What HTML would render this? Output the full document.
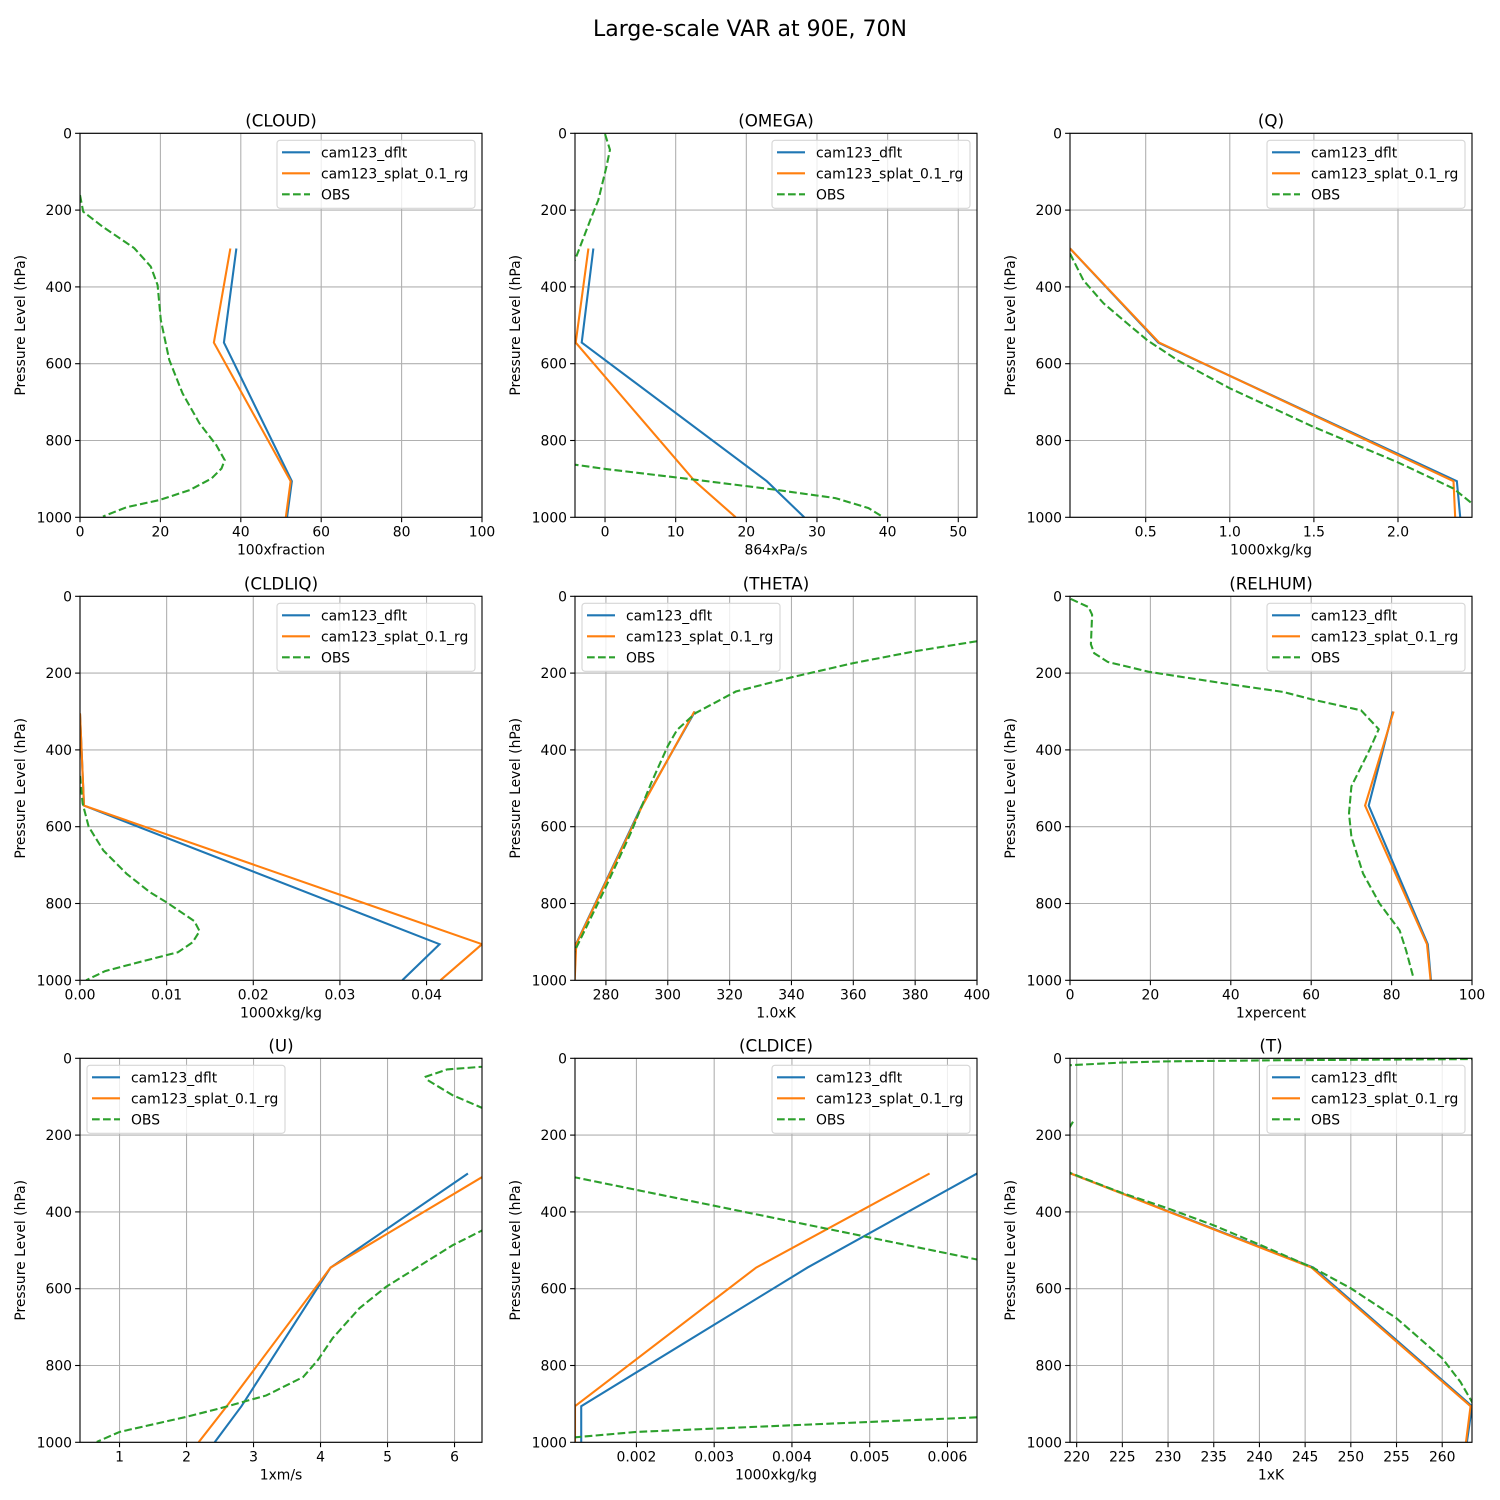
<!DOCTYPE html>
<html><head><meta charset="utf-8"><style>
html,body{margin:0;padding:0;background:#fff;}
svg{display:block;font-family:"DejaVu Sans","Liberation Sans",sans-serif;}
</style></head><body>
<svg id="fig" width="1500" height="1500" viewBox="0 0 1500 1500">
<rect width="1500" height="1500" fill="#fff"/>
<text x="750" y="36" text-anchor="middle" font-size="22">Large-scale VAR at 90E, 70N</text>
</svg>
<script>
// Pressure levels (model)
const levels = [300, 545, 906, 1000];
const yTicks = [0, 200, 400, 600, 800, 1000];

// CLOUD
const cloudDflt = [38.9, 35.8, 52.7, 51.5];
const cloudSplat = [37.4, 33.3, 52.4, 51.2];
const cloudObsP = [161,204,243,299,347,395,486,590,677,755,812,851,873,899,929,955,974,998];
const cloudObsX = [0,0.8,5.6,13.5,17.6,19.3,20.1,22.2,25.5,29.7,33.9,36,35.2,32.7,27.3,19.8,11.5,5.7];
const cloudTicks = [0,20,40,60,80,100];

// OMEGA
const omegaDflt = [-1.65, -3.3, 22.9, 28.2];
const omegaSplat = [-2.35, -4.15, 12.7, 18.5];
const omegaObsP = [2,43,87,174,217,325,360,null,840,863,874,902,928,950,976,1000];
const omegaObsX = [0,0.7,0.2,-0.95,-1.9,-4.15,-5,null,-6,-4.25,0,12.7,24,32.6,37.3,39.4];
const omegaTicks = [0,10,20,30,40,50];

// Q
const qDflt = [0.05, 0.575, 2.35, 2.37];
const qSplat = [0.05, 0.58, 2.33, 2.34];
const qObsP = [313,383,443,495,539,591,664,765,857,925,964];
const qObsX = [0.05,0.13,0.25,0.39,0.51,0.69,1.0,1.5,2.0,2.33,2.44];
const qTicks = [0.5,1.0,1.5,2.0];
const qTickLabels = ["0.5","1.0","1.5","2.0"];

// CLDLIQ
const liqP = [305, 545, 906, 1000];
const liqDflt = [0, 0.00046, 0.0415, 0.0372];
const liqSplat = [0, 0.00046, 0.0464, 0.0416];
const liqObsP = [468,539,600,662,723,771,797,846,872,901,927,939,950,976,1000];
const liqObsX = [0,0.0003,0.001,0.0027,0.0054,0.0081,0.01,0.0132,0.0138,0.013,0.0113,0.0092,0.0073,0.0029,0.0007];
const liqTicks = [0,0.01,0.02,0.03,0.04];
const liqTickLabels = ["0.00","0.01","0.02","0.03","0.04"];

// THETA
const thetaDflt = [308.8, 291.6, 270.3, 269.8];
const thetaSplat = [308.6, 291.8, 270.4, 269.9];
const thetaObsP = [117,143,174,211,248,304,348,390,487,617,765,922,960];
const thetaObsX = [400,380,360,340,322,309,303,300,294.6,288,279.5,270,269];
const thetaTicks = [280,300,320,340,360,380,400];

// RELHUM
const rhDflt = [80.3, 74.3, 89.0, 89.8];
const rhSplat = [80.5, 73.4, 88.8, 89.7];
const rhObsP = [7,28,48,125,148,171,197,229,249,269,297,346,400,495,565,626,722,800,870,922,996];
const rhObsX = [0.2,4.6,5.5,5.2,6.0,9.4,19.8,39.7,53,60.4,72.4,76.8,74.5,70,69.4,70,72.9,77,82,83.6,85.5];
const rhTicks = [0,20,40,60,80,100];

// U
const uDflt = [6.2, 4.15, 2.82, 2.42];
const uSplat = [6.5, 4.15, 2.6, 2.18];
const uObsP = [15,22,29,48,57,96,129,140,null,430,452,487,595,651,729,786,830,878,912,934,973,999];
const uObsX = [6.8,6.41,5.89,5.57,5.6,5.97,6.41,6.6,null,6.6,6.37,5.97,4.98,4.58,4.18,3.96,3.74,3.19,2.49,1.99,1.0,0.66];
const uTicks = [1,2,3,4,5,6];

// CLDICE
const iceDflt = [0.00638, 0.0042, 0.00129, 0.00129];
const iceSplat = [0.00577, 0.00354, 0.00121, 0.00121];
const iceObsP = [300,310,391,450,524,540,null,925,935,973,987,995];
const iceObsX = [0.0009,0.00121,0.00317,0.0046,0.00638,0.0068,null,0.0068,0.00638,0.002,0.00121,0.0009];
const iceTicks = [0.002,0.003,0.004,0.005,0.006];

// T
const tDflt = [219.35, 245.9, 263.26, 262.7];
const tSplat = [219.35, 245.7, 263.1, 262.6];
const tObsP = [1,2,5,8,11,18,20,null,165,175,190,null,290,299,351,391,435,485,546,599,677,781,843,895,910];
const tObsX = [264,263.26,242.7,229.9,225,219.3,218.9,null,219.6,219.35,219.0,null,218.8,219.35,225,230,235,240,245.9,250,255,260,262,263.26,263.6];
const tTicks = [220,225,230,235,240,245,250,255,260];

const NS = "http://www.w3.org/2000/svg";
const svg = document.getElementById('fig');
function el(tag, attrs, parent){ const e=document.createElementNS(NS,tag); for(const k in attrs) e.setAttribute(k,attrs[k]); (parent||svg).appendChild(e); return e; }

const colLeft=[80,575,1070], rowTop=[133.3,596.3,1058.3], W=402, H=384;
const DASH='7.7 3.3';
const panels=[
 {name:'cloud',title:'(CLOUD)',xl:'100xfraction',dom:[0,100],ticks:cloudTicks,labels:null,p:levels,d:cloudDflt,s:cloudSplat,op:cloudObsP,ox:cloudObsX,leg:'right'},
 {name:'omega',title:'(OMEGA)',xl:'864xPa/s',dom:[-4.25,52.65],ticks:omegaTicks,labels:null,p:levels,d:omegaDflt,s:omegaSplat,op:omegaObsP,ox:omegaObsX,leg:'right'},
 {name:'q',title:'(Q)',xl:'1000xkg/kg',dom:[0.05,2.44],ticks:qTicks,labels:qTickLabels,p:levels,d:qDflt,s:qSplat,op:qObsP,ox:qObsX,leg:'right'},
 {name:'cldliq',title:'(CLDLIQ)',xl:'1000xkg/kg',dom:[0,0.0464],ticks:liqTicks,labels:liqTickLabels,p:liqP,d:liqDflt,s:liqSplat,op:liqObsP,ox:liqObsX,leg:'right'},
 {name:'theta',title:'(THETA)',xl:'1.0xK',dom:[270,400],ticks:thetaTicks,labels:null,p:levels,d:thetaDflt,s:thetaSplat,op:thetaObsP,ox:thetaObsX,leg:'left'},
 {name:'relhum',title:'(RELHUM)',xl:'1xpercent',dom:[0,100],ticks:rhTicks,labels:null,p:levels,d:rhDflt,s:rhSplat,op:rhObsP,ox:rhObsX,leg:'right'},
 {name:'u',title:'(U)',xl:'1xm/s',dom:[0.41,6.41],ticks:uTicks,labels:null,p:levels,d:uDflt,s:uSplat,op:uObsP,ox:uObsX,leg:'left'},
 {name:'cldice',title:'(CLDICE)',xl:'1000xkg/kg',dom:[0.00121,0.00638],ticks:iceTicks,labels:null,p:levels,d:iceDflt,s:iceSplat,op:iceObsP,ox:iceObsX,leg:'right'},
 {name:'t',title:'(T)',xl:'1xK',dom:[219.27,263.26],ticks:tTicks,labels:null,p:levels,d:tDflt,s:tSplat,op:tObsP,ox:tObsX,leg:'right'}
];

panels.forEach((pn,i)=>{
  const L=colLeft[i%3], T=rowTop[Math.floor(i/3)];
  const xs=v=>L+(v-pn.dom[0])/(pn.dom[1]-pn.dom[0])*W;
  const ys=p=>T+p/1000*H;
  const g=el('g',{});
  
  
  const cp=el('clipPath',{id:'clip'+i},g);
  el('rect',{x:L,y:T,width:W,height:H},cp);
  pn.ticks.forEach((t,k)=>{
    const x=xs(t);
    const gl=el('line',{x1:x,x2:x,y1:T,y2:T+H,stroke:'#b0b0b0','stroke-width':1.1},g);
    
    
    el('line',{x1:x,x2:x,y1:T+H,y2:T+H+4.9,stroke:'#000','stroke-width':1.1},g);
    const tx=el('text',{x:x,y:T+H+19,'text-anchor':'middle','font-size':13.9},g);
    tx.textContent=pn.labels?pn.labels[k]:String(t);
    
    
  });
  yTicks.forEach(t=>{
    const y=ys(t);
    const gl=el('line',{x1:L,x2:L+W,y1:y,y2:y,stroke:'#b0b0b0','stroke-width':1.1},g);
    
    
    el('line',{x1:L-4.9,x2:L,y1:y,y2:y,stroke:'#000','stroke-width':1.1},g);
    const tx=el('text',{x:L-8,y:y+5,'text-anchor':'end','font-size':13.9},g);
    tx.textContent=String(t);
    
    
  });
  function path(ps,vs){
    let d='',start=true;
    for(let k=0;k<ps.length;k++){
      if(ps[k]===null){start=true;continue;}
      d+=(start?'M':'L')+xs(vs[k]).toFixed(2)+' '+ys(ps[k]).toFixed(2)+' ';
      start=false;
    }
    return d;
  }
  const sg=el('g',{'clip-path':'url(#clip'+i+')'},g);
  const l1=el('path',{d:path(pn.p,pn.d),fill:'none',stroke:'#1f77b4','stroke-width':2.08},sg);
  
  
  const l2=el('path',{d:path(pn.p,pn.s),fill:'none',stroke:'#ff7f0e','stroke-width':2.08},sg);
  
  
  const l3=el('path',{d:path(pn.op,pn.ox),fill:'none',stroke:'#2ca02c','stroke-width':2.08,'stroke-dasharray':DASH},sg);
  
  
  el('rect',{x:L,y:T,width:W,height:H,fill:'none',stroke:'#000','stroke-width':1.1},g);
  const tt=el('text',{x:L+W/2,y:T-7,'text-anchor':'middle','font-size':16.7},g);
  tt.textContent=pn.title;
  
  
  const xl=el('text',{x:L+W/2,y:T+H+37,'text-anchor':'middle','font-size':13.9},g);
  xl.textContent=pn.xl;
  
  
  const yx=L-55, yy=T+H/2;
  const yl=el('text',{x:yx,y:yy,'text-anchor':'middle','font-size':13.9,transform:'rotate(-90 '+yx+' '+yy+')'},g);
  yl.textContent='Pressure Level (hPa)';
  
  
  const lx = pn.leg==='right' ? L+W-205 : L+7, ly=T+7;
  const lg=el('g',{},g);
  
  
  el('rect',{x:lx,y:ly,width:198,height:68,rx:3,fill:'#fff','fill-opacity':0.8,stroke:'#d6d6d6','stroke-width':1.1},lg);
  const items=[['cam123_dflt','#1f77b4',null],['cam123_splat_0.1_rg','#ff7f0e',null],['OBS','#2ca02c',DASH]];
  items.forEach((it,k)=>{
    const y=ly+12+k*21;
    const ln=el('line',{x1:lx+5,x2:lx+33,y1:y,y2:y,stroke:it[1],'stroke-width':2.08},lg);
    if(it[2]) ln.setAttribute('stroke-dasharray',it[2]);
    const tx=el('text',{x:lx+44,y:y+5,'font-size':13.9},lg);
    tx.textContent=it[0];
    
    
  });
});
</script>
</body></html>
